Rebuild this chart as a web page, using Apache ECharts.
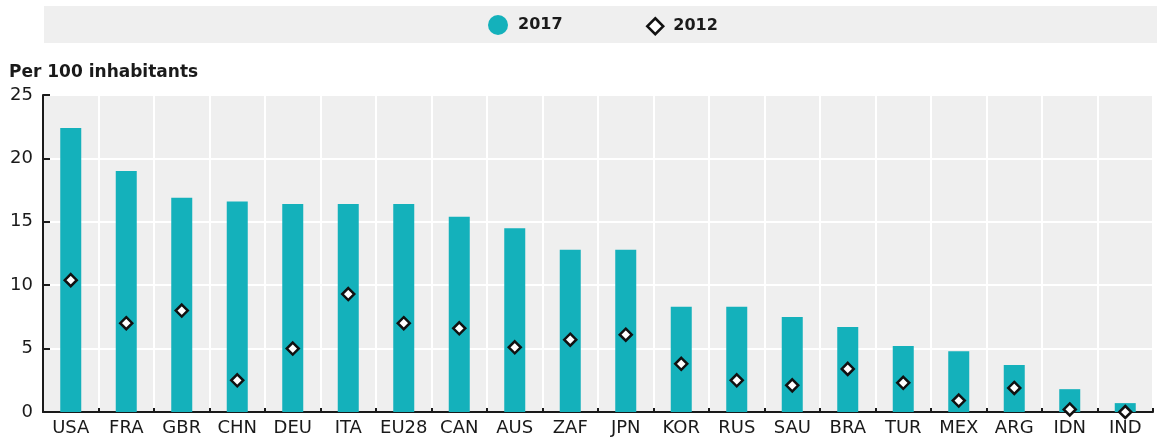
<!DOCTYPE html>
<html><head><meta charset="utf-8">
<script src="https://cdn.jsdelivr.net/npm/echarts@6/dist/echarts.min.js"></script>
<style>html,body{margin:0;padding:0;background:#fff}#c{width:1157px;height:439px}</style>
</head><body><div id="c"></div>
<script>
const categories = ['USA','FRA','GBR','CHN','DEU','ITA','EU28','CAN','AUS','ZAF','JPN','KOR','RUS','SAU','BRA','TUR','MEX','ARG','IDN','IND'];
const values2017 = [22.4,19.0,16.9,16.6,16.4,16.4,16.4,15.4,14.5,12.8,12.8,8.3,8.3,7.5,6.7,5.2,4.8,3.7,1.8,0.7];
const values2012 = [10.4,7.0,8.0,2.5,5.0,9.3,7.0,6.6,5.1,5.7,6.1,3.8,2.5,2.1,3.4,2.3,0.9,1.9,0.2,0.0];
const yTicks = [0,5,10,15,20,25];
const unitLabel = 'Per 100 inhabitants';

const font = '"DejaVu Sans", "Noto Sans", sans-serif';
const chart = echarts.init(document.getElementById('c'), null, {renderer:'canvas'});
chart.setOption({
  animation:false,
  textStyle:{fontFamily:font},
  graphic:[
    {type:'rect', shape:{x:44,y:6,width:1113,height:37}, style:{fill:'#efefef'}, z:-1},
    {type:'text', left:9, top:64, style:{text:unitLabel, font:'bold 17px '+font, fill:'#1a1a1a'}}
  ],
  legend:[
    {
      left:488, top:15, padding:0, itemWidth:20, itemHeight:20,
      textStyle:{fontSize:16, fontWeight:'bold', color:'#1a1a1a', padding:[0,0,0,5]},
      data:[{name:'2017', icon:'circle', itemStyle:{color:'#14b1bb', borderWidth:0}}]
    },
    {
      left:646, top:17, padding:0, itemWidth:16, itemHeight:16,
      textStyle:{fontSize:16, fontWeight:'bold', color:'#1a1a1a', padding:[0,0,0,5]},
      data:[{name:'2012', icon:'diamond', itemStyle:{color:'#fff', borderColor:'#111', borderWidth:2.5}}]
    }
  ],
  grid:{left:43, right:4, top:95, bottom:27, show:true, backgroundColor:'#efefef', borderWidth:0},
  xAxis:{
    type:'category', data:categories,
    axisLine:{lineStyle:{color:'#1a1a1a', width:2}},
    axisTick:{show:true, inside:true, length:4, lineStyle:{color:'#1a1a1a', width:2}},
    splitLine:{show:true, lineStyle:{color:'#fff', width:2}},
    axisLabel:{color:'#1a1a1a', fontSize:18, margin:7, interval:0}
  },
  yAxis:{
    type:'value', min:0, max:25, interval:5,
    axisLine:{show:true, lineStyle:{color:'#1a1a1a', width:2}},
    axisTick:{show:true, inside:true, length:7, lineStyle:{color:'#1a1a1a', width:2}},
    splitLine:{show:true, lineStyle:{color:'#fff', width:2}},
    axisLabel:{color:'#1a1a1a', fontSize:18, margin:10, formatter:v=>yTicks.includes(v)?String(v):''}
  },
  series:[
    {name:'2017', type:'bar', data:values2017, barWidth:21, itemStyle:{color:'#14b1bb'}, z:2},
    {name:'2012', type:'scatter', data:values2012, symbol:'diamond', symbolSize:[12,12],
     itemStyle:{color:'#fff', borderColor:'#111', borderWidth:2.5, opacity:1}, z:5}
  ]
});
</script></body></html>
